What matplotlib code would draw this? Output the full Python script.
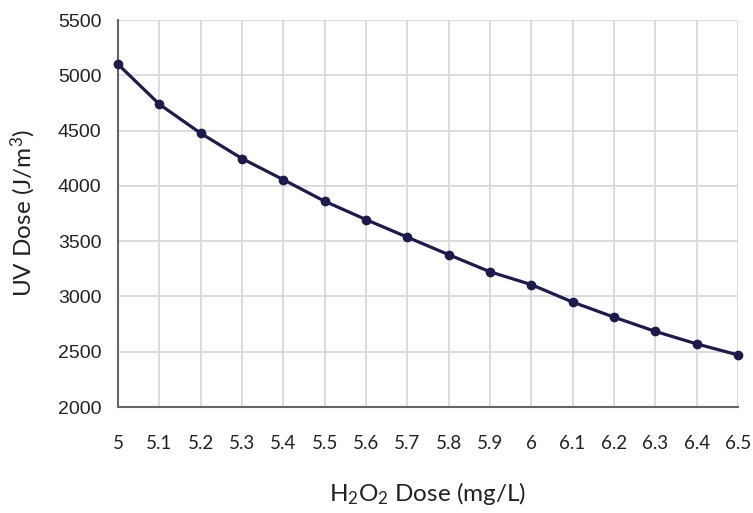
import matplotlib
matplotlib.use("Agg")
import matplotlib.pyplot as plt

h2o2_dose = [5.0, 5.1, 5.2, 5.3, 5.4, 5.5, 5.6, 5.7, 5.8, 5.9, 6.0, 6.1, 6.2, 6.3, 6.4, 6.5]
uv_dose = [5100, 4738, 4476, 4247, 4056, 3861, 3695, 3536, 3378, 3223, 3107, 2949, 2813, 2684, 2571, 2471]
x_ticks = [5.0, 5.1, 5.2, 5.3, 5.4, 5.5, 5.6, 5.7, 5.8, 5.9, 6.0, 6.1, 6.2, 6.3, 6.4, 6.5]
x_tick_labels = ["5", "5.1", "5.2", "5.3", "5.4", "5.5", "5.6", "5.7", "5.8", "5.9", "6", "6.1", "6.2", "6.3", "6.4", "6.5"]
y_ticks = [2000, 2500, 3000, 3500, 4000, 4500, 5000, 5500]

plt.rcParams['mathtext.fontset'] = 'custom'
plt.rcParams['mathtext.rm'] = 'Lato'
plt.rcParams['mathtext.it'] = 'Lato'

fig = plt.figure(figsize=(7.53, 5.13), dpi=100)
ax = fig.add_axes([0.1567, 0.2066, 0.8233, 0.7544])

ax.plot(h2o2_dose, uv_dose, color='#1c1a4e', lw=2.3, marker='o', ms=6, zorder=3, clip_on=False)

ax.set_xlim(5.0, 6.5)
ax.set_ylim(2000, 5500)
ax.set_xticks(x_ticks)
ax.set_xticklabels(x_tick_labels, fontfamily='Lato', fontsize=13.5, color='#222222')
ax.set_yticks(y_ticks)
ax.set_yticklabels([str(v) for v in y_ticks], fontfamily='Liberation Sans', fontsize=14, color='#222222')
ax.tick_params(axis='x', length=0, pad=20)
ax.tick_params(axis='y', length=0, pad=12)

ax.grid(True, color='#d9d9d9', lw=1.3, zorder=0)
ax.set_axisbelow(True)
for s in ['top', 'right']:
    ax.spines[s].set_visible(False)
for s in ['left', 'bottom']:
    ax.spines[s].set_color('#666666')
    ax.spines[s].set_linewidth(1.5)

ax.set_xlabel('H$_2$O$_2$ Dose (mg/L)', fontfamily='Lato', fontsize=17.5, color='#222222', labelpad=20)
ax.set_ylabel('UV Dose (J/m$^3$)', fontfamily='Lato', fontsize=17.5, color='#222222', labelpad=14)

fig.savefig('out.png', dpi=100)
